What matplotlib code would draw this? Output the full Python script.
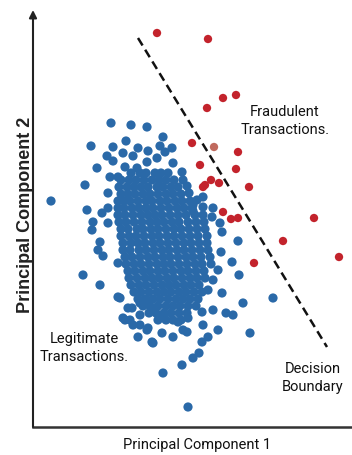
import matplotlib
matplotlib.use("Agg")
from matplotlib import pyplot as plt

# Legitimate transactions: dense core, stored row by row (PC2 value, PC1 values)
core_rows = [
    (282, [131, 140, 146, 155, 161, 168]),
    (275, [121, 129, 136, 144, 152, 159, 166, 174]),
    (268, [119, 127, 134, 141, 148, 157, 163, 171, 178]),
    (261, [121, 128, 135, 143, 150, 158, 166, 173, 181]),
    (254, [118, 124, 130, 138, 146, 152, 160, 167, 175, 182, 190]),
    (247, [118, 124, 132, 139, 146, 153, 161, 169, 177, 184, 192]),
    (240, [118, 125, 133, 141, 148, 155, 162, 170, 178, 186, 195, 203]),
    (233, [119, 126, 134, 142, 150, 157, 164, 172, 179, 188, 196, 204]),
    (226, [121, 128, 137, 143, 151, 158, 166, 174, 181, 189, 197, 205]),
    (219, [121, 129, 136, 144, 152, 159, 167, 174, 182, 190, 198, 207]),
    (212, [123, 131, 138, 145, 153, 160, 168, 176, 184, 191, 199, 207]),
    (205, [123, 130, 139, 146, 154, 162, 169, 177, 184, 192, 200, 208]),
    (198, [125, 132, 140, 148, 155, 163, 170, 178, 186, 193, 201, 210]),
    (191, [126, 134, 141, 149, 157, 164, 171, 179, 187, 195, 202, 211]),
    (184, [128, 135, 143, 150, 158, 165, 173, 181, 188, 196, 204]),
    (177, [129, 137, 145, 152, 159, 167, 174, 182, 190, 197, 205]),
    (170, [131, 139, 146, 154, 162, 169, 176, 184, 191, 199]),
    (163, [134, 141, 149, 157, 164, 171, 179, 186, 194, 202]),
    (156, [138, 145, 153, 160, 168, 176, 183, 190, 198]),
    (149, [143, 150, 158, 166, 173, 180, 188, 196]),
    (142, [149, 156, 164, 171, 179, 187]),
    (135, [158, 166, 173, 181]),
]

# Legitimate transactions: scattered points around the core
edge_x = [111, 131, 147, 91, 163, 126, 113, 138, 148, 172, 160, 107, 123, 133, 157, 165,
          113, 147, 97, 125, 137, 173, 182, 85, 183, 187, 110, 118, 108, 51, 87, 102,
          108, 93, 108, 92, 100, 98, 103, 118, 83, 100, 118, 123, 132, 138, 153, 163,
          182, 193, 199, 188, 208, 218, 226, 233, 243, 250, 273, 232, 239, 238, 222, 221,
          218, 213, 208, 212, 213, 203, 193, 203, 193, 220, 189, 197, 130, 147, 173, 162,
          183, 202, 213, 222, 203, 202, 155, 163, 187, 188, 140, 178, 120, 128, 140, 125,
          133, 140, 148, 152, 147]
edge_y = [332, 330, 328, 309, 318, 314, 308, 307, 304, 307, 309, 299, 302, 299, 297, 303,
          294, 293, 287, 288, 287, 292, 283, 270, 275, 269, 278, 278, 262, 254, 245, 242,
          247, 233, 232, 225, 213, 205, 199, 192, 180, 170, 158, 137, 147, 118, 112, 82,
          90, 97, 102, 48, 118, 125, 142, 140, 152, 122, 157, 193, 180, 214, 223, 203,
          185, 175, 165, 238, 247, 248, 244, 258, 250, 232, 262, 255, 135, 125, 118, 122,
          125, 143, 145, 162, 130, 113, 147, 140, 123, 137, 130, 133, 157, 147, 152, 135,
          130, 140, 127, 113, 155]

# Fraudulent transactions
fraud_x = [157, 208, 207, 223, 236, 192, 238, 200, 236, 211, 205, 219, 249,
           223, 231, 238, 314, 283, 254, 339, 203]
fraud_y = [422, 416, 347, 357, 360, 312, 303, 290, 286, 275, 270, 272, 268,
           243, 236, 237, 237, 214, 192, 198, 268]
faded_x = [214]
faded_y = [308]

# Decision boundary end points
boundary_x = [138, 327]
boundary_y = [417, 108]

legit_x = edge_x[:]
legit_y = edge_y[:]
for yy, xs in core_rows:
    legit_x += xs
    legit_y += [yy] * len(xs)

blue = "#2a69a8"
red = "#c3232c"
narrow = ["Roboto", "DejaVu Sans"]

fig = plt.figure(figsize=(3.52, 4.55), dpi=100)
ax = fig.add_axes([33 / 352, 28 / 455, 319 / 352, 417 / 455])
ax.set_xlim(33, 352)
ax.set_ylim(28, 445)

ax.scatter(legit_x, legit_y, s=44, color=blue, edgecolors="none", zorder=2)
ax.scatter(fraud_x, fraud_y, s=36, color=red, edgecolors="none", zorder=3)
ax.scatter(faded_x, faded_y, s=36, color="#c06a5e", edgecolors="none", zorder=3)
ax.plot(boundary_x, boundary_y, color="#111111", lw=1.8, ls=(0, (3.5, 2)), zorder=4)

label_kw = dict(family=narrow, fontstretch="condensed", fontsize=10.5,
                ha="center", va="center", linespacing=1.45, color="#111111")
ax.text(285, 334, "Fraudulent\nTransactions.", **label_kw)
ax.text(84, 107, "Legitimate\nTransactions.", **label_kw)
ax.text(313, 77, "Decision\nBoundary", **label_kw)

for side in ["top", "right", "left"]:
    ax.spines[side].set_visible(False)
ax.spines["bottom"].set_linewidth(1.8)
ax.spines["bottom"].set_color("#333333")
ax.set_xticks([])
ax.set_yticks([])

ax.annotate("", xy=(0, 1.0), xytext=(0, 0), xycoords="axes fraction",
            textcoords="axes fraction",
            arrowprops=dict(arrowstyle="-|>", lw=1.5, color="#222222", mutation_scale=11,
                            shrinkA=0, shrinkB=0))

fig.text(197 / 352, 1 - 445 / 455, "Principal Component 1", family=narrow,
         fontstretch="condensed", fontsize=10.5,
         ha="center", va="center", color="#111111")
fig.text(25 / 352, 1 - 215 / 455, "Principal Component 2", fontsize=13, fontweight="bold",
         family=["Liberation Sans", "DejaVu Sans"], rotation=90,
         ha="center", va="center", color="#222222")

fig.savefig("out.png", dpi=100)
